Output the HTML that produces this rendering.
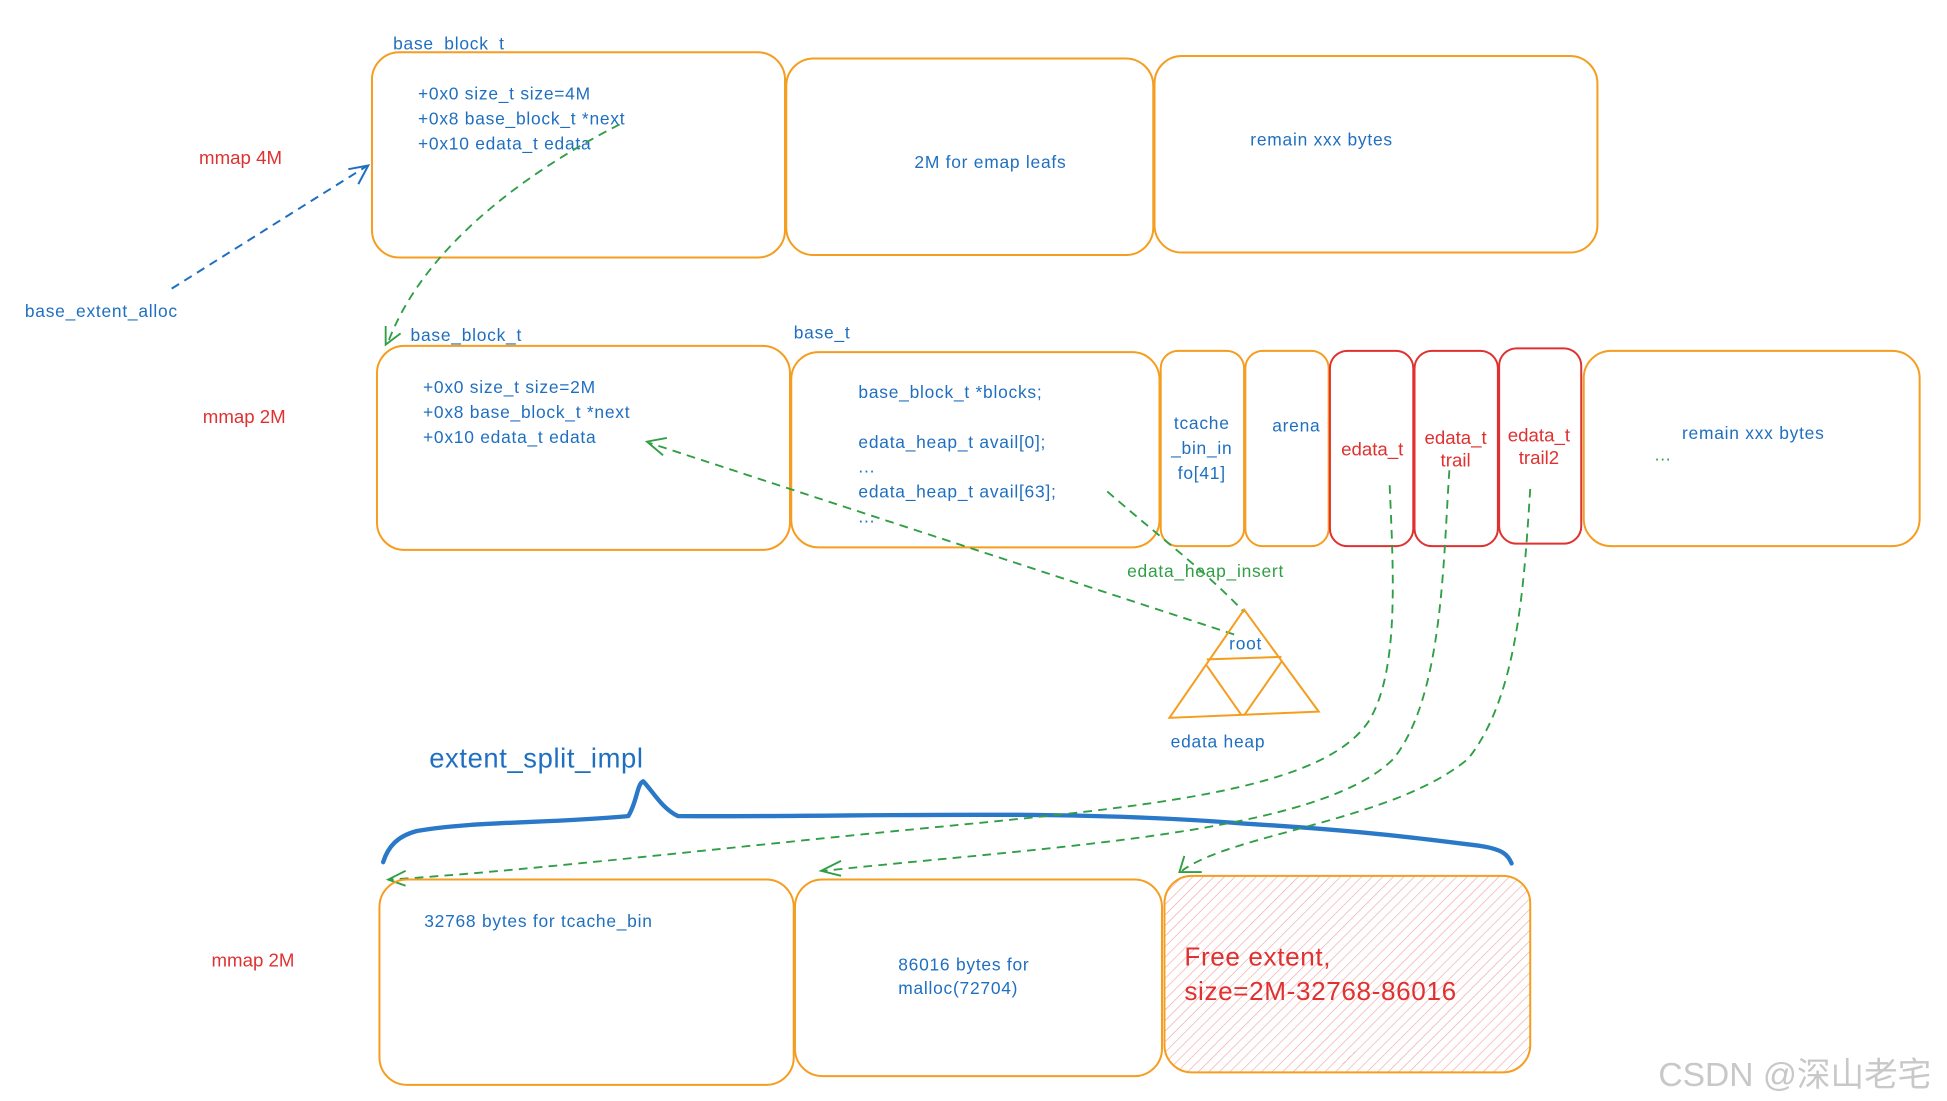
<!DOCTYPE html>
<html><head><meta charset="utf-8"><style>
html,body{margin:0;padding:0;background:#fff;}
svg{display:block;}
text{font-family:"Liberation Sans","Noto Sans CJK SC",sans-serif;}
.b{fill:#1f6fc1;font-size:14px;letter-spacing:0.6px;}
.r{fill:#e03131;font-size:15px;}
.g{fill:#2f9e44;font-size:14px;letter-spacing:0.6px;}
.o{fill:none;stroke:#f59d1f;stroke-width:1.6;}
.rd{fill:none;stroke:#e03131;stroke-width:1.6;}
.gd{fill:none;stroke:#2f9e44;stroke-width:1.5;stroke-dasharray:7 5;}
</style></head><body>
<svg width="1947" height="1101" viewBox="0 0 1565 885" preserveAspectRatio="none" xmlns="http://www.w3.org/2000/svg">
<defs>
<pattern id="hatch" width="6" height="6" patternUnits="userSpaceOnUse" patternTransform="rotate(45)">
<line x1="0" y1="0" x2="0" y2="6" stroke="#f4a3a3" stroke-width="1"/>
</pattern>
</defs>
<rect width="1565" height="885" fill="#fff"/>

<text class="b" x="316" y="40">base_block_t</text>
<rect class="o" x="299" y="42" width="332" height="165" rx="22"/>
<rect class="o" x="632" y="47" width="295" height="158" rx="22"/>
<rect class="o" x="928" y="45" width="356" height="158" rx="22"/>
<text class="b" x="336" y="80">+0x0 size_t size=4M</text>
<text class="b" x="336" y="100">+0x8 base_block_t *next</text>
<text class="b" x="336" y="120">+0x10 edata_t edata</text>
<text class="b" x="735" y="135">2M for emap leafs</text>
<text class="b" x="1005" y="117">remain xxx bytes</text>
<text class="r" x="160" y="132">mmap 4M</text>
<text class="b" x="20" y="255">base_extent_alloc</text>
<path d="M138 232 L294 134" stroke="#1f6fc1" stroke-width="1.6" stroke-dasharray="7 5" fill="none"/>
<path d="M280 136 L296 133 L288 148" stroke="#1f6fc1" stroke-width="1.6" fill="none"/>
<path class="gd" d="M498 100 C420 140 340 200 312 275"/>
<path d="M310 262 L310 277 L322 268" stroke="#2f9e44" stroke-width="1.5" fill="none"/>

<text class="b" x="330" y="274">base_block_t</text>
<text class="b" x="638" y="272">base_t</text>
<rect class="o" x="303" y="278" width="332" height="164" rx="22"/>
<rect class="o" x="636" y="283" width="296" height="157" rx="22"/>
<rect class="o" x="933" y="282" width="67" height="157" rx="14"/>
<rect class="o" x="1001" y="282" width="67" height="157" rx="14"/>
<rect class="rd" x="1069" y="282" width="67" height="157" rx="14"/>
<rect class="rd" x="1137" y="282" width="67" height="157" rx="14"/>
<rect class="rd" x="1205" y="280" width="66" height="157" rx="14"/>
<rect class="o" x="1273" y="282" width="270" height="157" rx="22"/>
<text class="b" x="340" y="316">+0x0 size_t size=2M</text>
<text class="b" x="340" y="336">+0x8 base_block_t *next</text>
<text class="b" x="340" y="356">+0x10 edata_t edata</text>
<text class="b" x="690" y="320">base_block_t *blocks;</text>
<text class="b" x="690" y="360">edata_heap_t avail[0];</text>
<text class="b" x="690" y="380">...</text>
<text class="b" x="690" y="400">edata_heap_t avail[63];</text>
<text class="b" x="690" y="420">...</text>
<text class="b" x="966" y="345" text-anchor="middle">tcache</text>
<text class="b" x="966" y="365" text-anchor="middle">_bin_in</text>
<text class="b" x="966" y="385" text-anchor="middle">fo[41]</text>
<text class="b" x="1042" y="347" text-anchor="middle">arena</text>
<text class="r" x="1103" y="366" text-anchor="middle">edata_t</text>
<text class="r" x="1170" y="357" text-anchor="middle">edata_t</text>
<text class="r" x="1170" y="375" text-anchor="middle">trail</text>
<text class="r" x="1237" y="355" text-anchor="middle">edata_t</text>
<text class="r" x="1237" y="373" text-anchor="middle">trail2</text>
<text class="b" x="1352" y="353">remain xxx bytes</text>
<text class="g" x="1330" y="370">...</text>
<text class="r" x="163" y="340">mmap 2M</text>

<path class="gd" d="M992 510 L522 356"/>
<path d="M536 352 L520 355 L533 366" stroke="#2f9e44" stroke-width="1.5" fill="none"/>
<path class="gd" d="M890 395 C930 430 970 460 1000 492"/>
<text class="g" x="906" y="464">edata_heap_insert</text>

<path d="M1000 490 L940 577 L1060 572 Z" fill="none" stroke="#f59d1f" stroke-width="1.6"/>
<path d="M970 530 L1030 528" fill="none" stroke="#f59d1f" stroke-width="1.6"/>
<path d="M970 535 L998 575" fill="none" stroke="#f59d1f" stroke-width="1.6"/>
<path d="M1030 532 L1000 575" fill="none" stroke="#f59d1f" stroke-width="1.6"/>
<text class="b" x="988" y="522">root</text>
<text class="b" x="941" y="601">edata heap</text>

<text class="b" x="345" y="617" style="font-size:22px;letter-spacing:0.5px">extent_split_impl</text>
<path d="M308 693 C312 680 320 672 335 668 C380 660 440 662 505 656 C512 645 512 630 517 628 C524 635 532 650 545 656 C700 657 850 650 1000 662 C1100 668 1150 675 1190 680 C1210 683 1212 688 1215 694" fill="none" stroke="#2a78c8" stroke-width="3.5" stroke-linecap="round" stroke-linejoin="round"/>

<path class="gd" d="M1117 390 C1120 460 1125 540 1100 580 C1060 640 900 650 700 670 C550 685 420 700 314 707"/>
<path d="M326 700 L312 707 L326 712" stroke="#2f9e44" stroke-width="1.5" fill="none"/>
<path class="gd" d="M1165 378 C1160 450 1160 560 1120 610 C1060 670 850 680 662 700"/>
<path d="M676 692 L660 700 L676 704" stroke="#2f9e44" stroke-width="1.5" fill="none"/>
<path class="gd" d="M1230 393 C1225 470 1220 560 1180 610 C1120 660 990 670 950 700"/>
<path d="M952 688 L948 701 L966 701" stroke="#2f9e44" stroke-width="1.5" fill="none"/>

<rect class="o" x="305" y="707" width="333" height="165" rx="22"/>
<rect class="o" x="639" y="707" width="295" height="158" rx="22"/>
<rect x="936" y="704" width="294" height="158" rx="22" fill="url(#hatch)" stroke="#f59d1f" stroke-width="1.6"/>
<text class="b" x="341" y="745">32768 bytes for tcache_bin</text>
<text class="b" x="722" y="780">86016 bytes for</text>
<text class="b" x="722" y="799">malloc(72704)</text>
<text class="r" x="952" y="776" style="font-size:21px;letter-spacing:0.5px">Free extent,</text>
<text class="r" x="952" y="804" style="font-size:21px;letter-spacing:0.5px">size=2M-32768-86016</text>
<text class="r" x="170" y="777">mmap 2M</text>

<text x="1333" y="873" style="font-size:27px;fill:#c8c8c8">CSDN @深山老宅</text>
</svg>
</body></html>
